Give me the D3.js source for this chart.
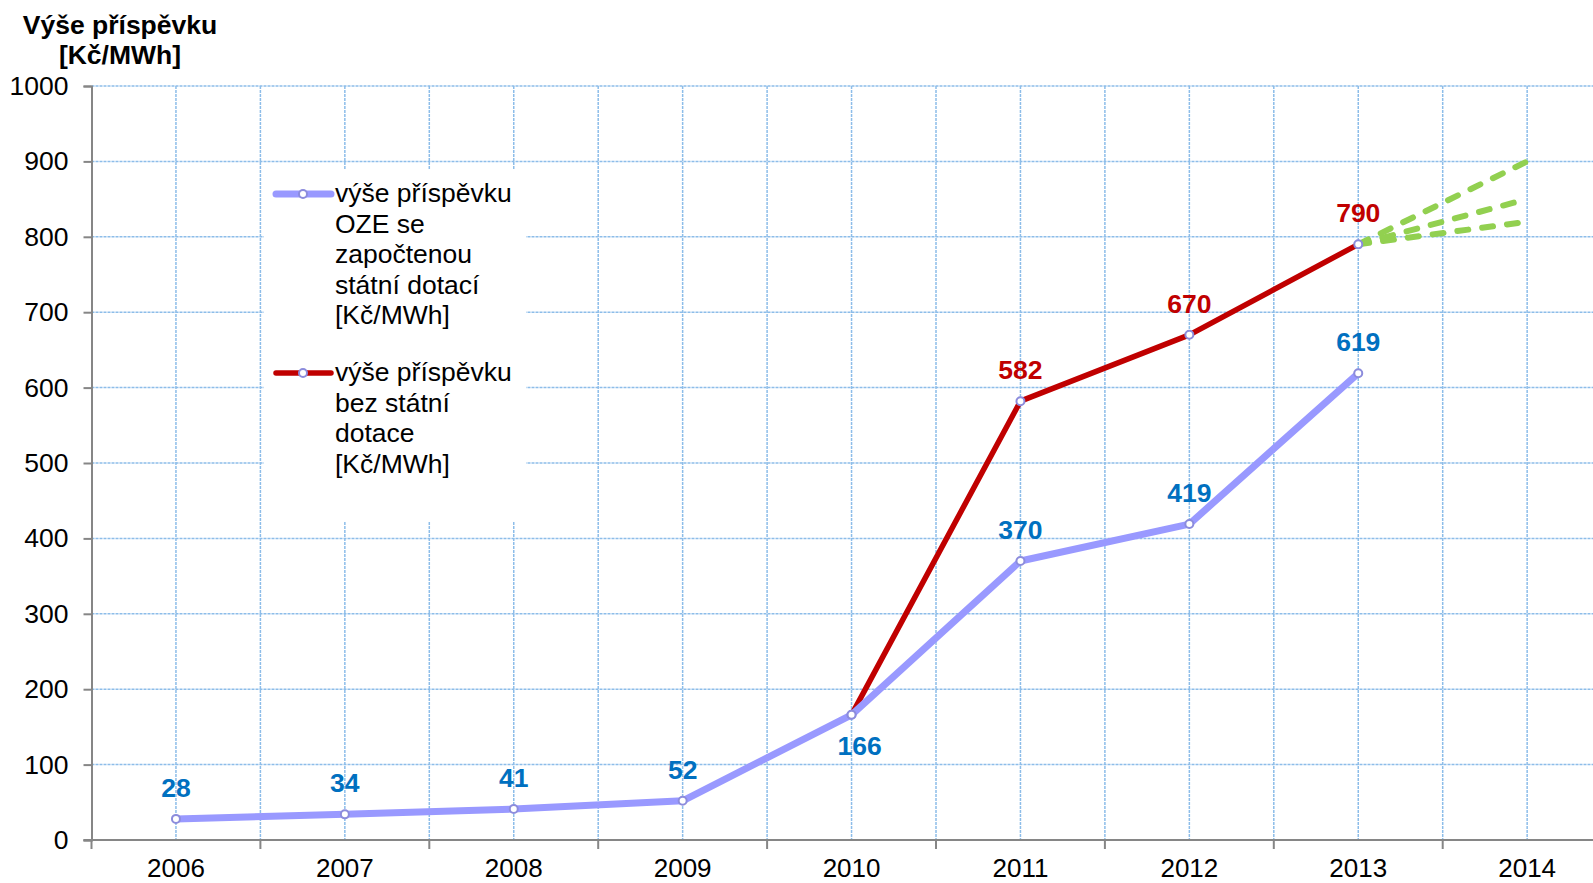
<!DOCTYPE html>
<html>
<head>
<meta charset="utf-8">
<script src="https://cdn.jsdelivr.net/npm/d3@7"></script>
<style>
  body { margin: 0; background: #fff; }
  svg { display: block; font-family: "Liberation Sans", Arial, sans-serif; }
</style>
</head>
<body>
<div class="chart"></div>
<script>
var years = ["2006", "2007", "2008", "2009", "2010", "2011", "2012", "2013", "2014"];
var withSubsidy = [28, 34, 41, 52, 166, 370, 419, 619, null];
var withoutSubsidy = [null, null, null, null, 166, 582, 670, 790, null];
var forecast2014 = [900, 850, 820];
var yTicks = [0, 100, 200, 300, 400, 500, 600, 700, 800, 900, 1000];

var legendLabels = [
    ["výše příspěvku", "OZE se", "započtenou", "státní dotací", "[Kč/MWh]"],
    ["výše příspěvku", "bez státní", "dotace", "[Kč/MWh]"]
];

var W = 1593, H = 883;
var x0 = 91.5, bandW = 168.9;

var svg = d3.select(".chart")
            .append("svg")
            .attr("width", W)
            .attr("height", H);

var x = d3.scaleBand()
          .domain(years)
          .range([x0, x0 + bandW * years.length]);

var y = d3.scaleLinear()
          .domain([0, 1000])
          .range([840, 86]);

var cx = function(yr) { return x(yr) + x.bandwidth() / 2; };

var gridColor = "#8dbde9";

//horizontal grid
svg.append("g")
    .selectAll("line")
    .data(yTicks.slice(1))
    .enter()
    .append("line")
    .attr("x1", x0)
    .attr("x2", W)
    .attr("y1", function(d) { return y(d); })
    .attr("y2", function(d) { return y(d); })
    .attr("stroke", gridColor)
    .attr("stroke-width", 1.5)
    .attr("stroke-dasharray", "3,1");

//vertical grid at category centres and borders
var vgrid = years.map(cx).concat(years.slice(1).map(function(d) { return x(d); }));
svg.append("g")
    .selectAll("line")
    .data(vgrid)
    .enter()
    .append("line")
    .attr("x1", function(d) { return d; })
    .attr("x2", function(d) { return d; })
    .attr("y1", y(1000))
    .attr("y2", y(0))
    .attr("stroke", gridColor)
    .attr("stroke-width", 1.5)
    .attr("stroke-dasharray", "3,1");

//axes
var yAxis = d3.axisLeft(y).tickValues(yTicks).tickSize(8).tickPadding(15).tickFormat(d3.format("d"));
var gy = svg.append("g")
    .attr("transform", "translate(" + x0 + ",0)")
    .call(yAxis);
gy.select(".domain").attr("stroke", "#868686").attr("stroke-width", 2);
gy.selectAll(".tick line").attr("stroke", "#868686").attr("stroke-width", 2);
gy.selectAll(".tick text")
    .attr("fill", "#000")
    .style("font-size", "26.5px")
    .style("font-family", "Liberation Sans, Arial, sans-serif");

var gx = svg.append("g");
gx.append("line")
    .attr("x1", x0 - 8)
    .attr("x2", W)
    .attr("y1", y(0))
    .attr("y2", y(0))
    .attr("stroke", "#868686")
    .attr("stroke-width", 2);
gx.selectAll("line.tk")
    .data([x0].concat(years.slice(1).map(function(d) { return x(d); })))
    .enter()
    .append("line")
    .attr("class", "tk")
    .attr("x1", function(d) { return d; })
    .attr("x2", function(d) { return d; })
    .attr("y1", y(0))
    .attr("y2", y(0) + 9)
    .attr("stroke", "#868686")
    .attr("stroke-width", 2);
gx.selectAll("text")
    .data(years)
    .enter()
    .append("text")
    .attr("x", cx)
    .attr("y", 877)
    .attr("text-anchor", "middle")
    .style("font-size", "26px")
    .text(function(d) { return d; });

//legend background hides the grid
svg.append("rect")
    .attr("x", 264)
    .attr("y", 169)
    .attr("width", 262)
    .attr("height", 352)
    .attr("fill", "#fff");

//forecast lines
forecast2014.forEach(function(v) {
    svg.append("line")
        .attr("x1", cx("2013"))
        .attr("y1", y(790))
        .attr("x2", cx("2014"))
        .attr("y2", y(v))
        .attr("stroke", "#92d050")
        .attr("stroke-width", 6)
        .attr("stroke-linecap", "round")
        .attr("stroke-dasharray", "11,14");
});

var line = d3.line()
             .defined(function(d) { return d.v != null; })
             .x(function(d) { return cx(d.year); })
             .y(function(d) { return y(d.v); });

var series = [
    {values: withSubsidy, color: "#9999ff", width: 7, labelColor: "#0070c0"},
    {values: withoutSubsidy, color: "#c00000", width: 5.5, labelColor: "#c00000"}
];

series.slice().reverse().forEach(function(s) {
    var pts = years.map(function(yr, i) { return {year: yr, v: s.values[i]}; });
    svg.append("path")
        .datum(pts)
        .attr("d", line)
        .attr("fill", "none")
        .attr("stroke", s.color)
        .attr("stroke-width", s.width)
        .attr("stroke-linejoin", "round");
    s.pts = pts.filter(function(d) { return d.v != null; });
});

series.forEach(function(s) {
    svg.append("g")
        .selectAll("circle")
        .data(s.pts)
        .enter()
        .append("circle")
        .attr("cx", function(d) { return cx(d.year); })
        .attr("cy", function(d) { return y(d.v); })
        .attr("r", 4)
        .attr("fill", "#fff")
        .attr("stroke", "#8c8cdc")
        .attr("stroke-width", 2);
});

//data labels
var blueLabels = series[0].pts;
var redLabels = series[1].pts.filter(function(d) { return d.year != "2010"; });

svg.append("g")
    .selectAll("text")
    .data(blueLabels)
    .enter()
    .append("text")
    .attr("x", function(d) { return cx(d.year) + (d.year == "2010" ? 8 : 0); })
    .attr("y", function(d) { return y(d.v) + (d.year == "2010" ? 40 : -22); })
    .attr("text-anchor", "middle")
    .attr("fill", "#0070c0")
    .style("font-size", "26.5px")
    .style("font-weight", "bold")
    .text(function(d) { return d.v; });

svg.append("g")
    .selectAll("text")
    .data(redLabels)
    .enter()
    .append("text")
    .attr("x", function(d) { return cx(d.year); })
    .attr("y", function(d) { return y(d.v) - 22; })
    .attr("text-anchor", "middle")
    .attr("fill", "#c00000")
    .style("font-size", "26.5px")
    .style("font-weight", "bold")
    .text(function(d) { return d.v; });

//legend
var legTop = [194, 373];
legendLabels.forEach(function(lines, i) {
    var g = svg.append("g");
    g.append("line")
        .attr("x1", 276)
        .attr("x2", 331)
        .attr("y1", legTop[i])
        .attr("y2", legTop[i])
        .attr("stroke", series[i].color)
        .attr("stroke-width", series[i].width)
        .attr("stroke-linecap", "round");
    g.append("circle")
        .attr("cx", 303)
        .attr("cy", legTop[i])
        .attr("r", 4)
        .attr("fill", "#fff")
        .attr("stroke", "#8c8cdc")
        .attr("stroke-width", 2);
    g.selectAll("text")
        .data(lines)
        .enter()
        .append("text")
        .attr("x", 335)
        .attr("y", function(d, j) { return legTop[i] + 8 + j * 30.6; })
        .style("font-size", "26.5px")
        .text(function(d) { return d; });
});

//axis title
var title = svg.append("text")
    .attr("text-anchor", "middle")
    .style("font-size", "26.5px")
    .style("font-weight", "bold");
title.append("tspan").attr("x", 120).attr("y", 34).text("Výše příspěvku");
title.append("tspan").attr("x", 120).attr("y", 64).text("[Kč/MWh]");
</script>
</body>
</html>
